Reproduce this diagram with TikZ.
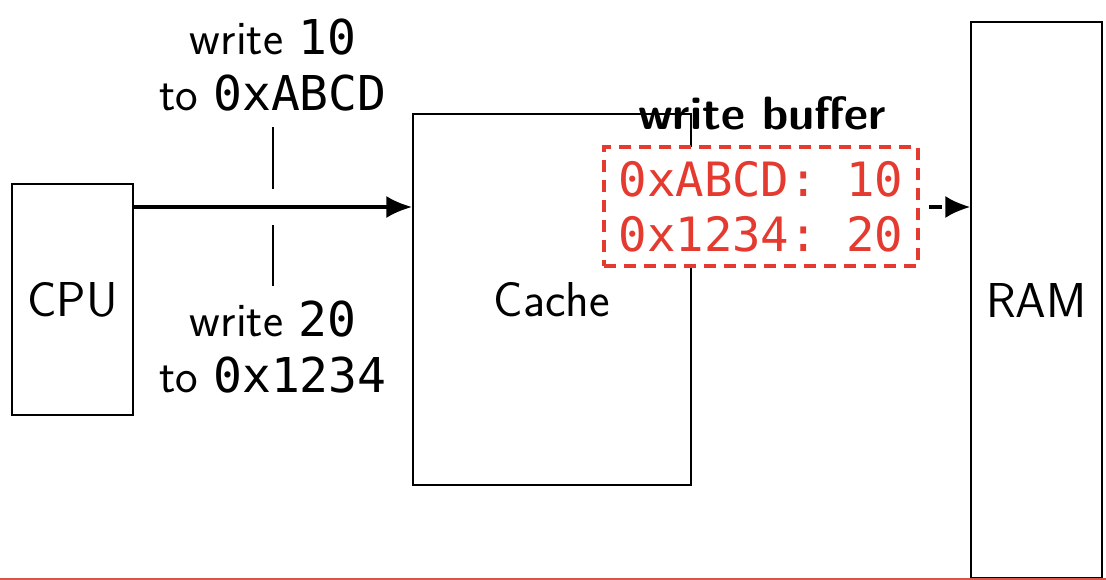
\documentclass[tikz,border=0pt]{standalone}
\usepackage{fontspec}
\setmonofont{DejaVu Sans Mono}
\usetikzlibrary{arrows.meta}
\definecolor{wbred}{HTML}{E53A2F}
\definecolor{lineRed}{HTML}{D9534F}
\tikzset{
  box/.style={draw, line width=1.2pt, rectangle, inner sep=0pt, font=\sffamily\fontsize{49}{56}\selectfont},
  lbl/.style={align=center, inner sep=0pt, font=\sffamily\fontsize{48}{56}\selectfont},
  bufbox/.style={draw=wbred, fill=white, line width=3.5pt, dash pattern=on 12pt off 8pt, inner sep=0pt,
    text=wbred, align=center, font=\ttfamily\fontsize{47.3}{55}\selectfont},
  tick/.style={line width=2.2pt},
}
\begin{document}
\begin{tikzpicture}[x=1pt,y=-1pt]
\useasboundingbox (0,0) rectangle (1106,580);
\node[box, minimum width=121pt, minimum height=231pt] (cpu) at (72.5,299.5) {CPU};
\node[box, minimum width=278pt, minimum height=371pt] (cache) at (552,299.5) {Cache};
\node[box, minimum width=131pt, minimum height=556pt] (ram) at (1036.5,300) {RAM};
\node[bufbox, minimum width=314pt, minimum height=119pt] (buf) at (761,206.5) {0xABCD: 10\\0x1234: 20};
\node[inner sep=0pt, font=\sffamily\bfseries\fontsize{46.7}{56}\selectfont] (buflbl) at (762,113) {write buffer};
\node[lbl] (w1) at (273,65) {write \texttt{10}\\to \texttt{0xABCD}};
\node[lbl] (w2) at (273,347) {write \texttt{20}\\to \texttt{0x1234}};
\coordinate (a1) at (cpu.east |- 0,207);
\coordinate (a2) at (cache.west |- 0,207);
\draw[line width=4pt, -{Latex[length=26pt,width=22pt]}] (a1) -- (a2);
\coordinate (t1a) at (273,127);
\coordinate (t1b) at (273,189);
\coordinate (t2a) at (273,225);
\coordinate (t2b) at (273,286);
\draw[tick] (t1a) -- (t1b);
\draw[tick] (t2a) -- (t2b);
\coordinate (d1) at (buf.east |- 0,207);
\coordinate (d2) at (ram.west |- 0,207);
\draw[line width=3.5pt, dash pattern=on 0pt off 9pt on 13pt off 30pt, -{Latex[length=25pt,width=22pt]}] (d1) -- (d2);
\coordinate (r1) at (0,579);
\coordinate (r2) at (1106,579);
\draw[lineRed, line width=2pt] (r1) -- (r2);
\end{tikzpicture}
\end{document}
